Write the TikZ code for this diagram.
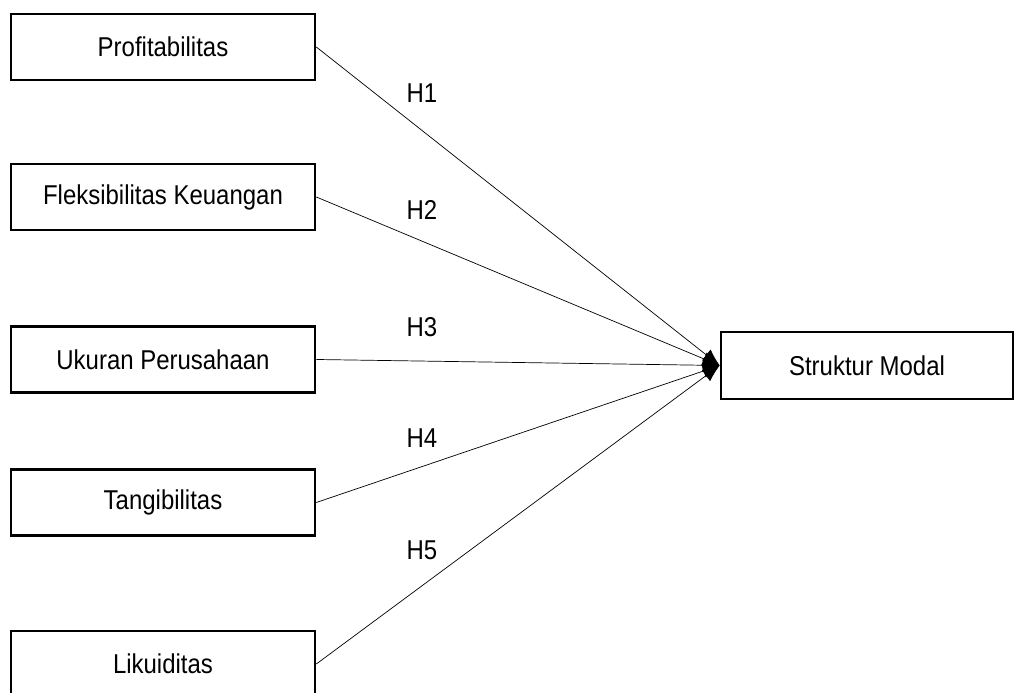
\documentclass[tikz,border=0pt]{standalone}
\usepackage{fontspec}
\setmainfont[FakeStretch=0.88]{Liberation Sans}
\usetikzlibrary{arrows.meta}

\tikzset{
  varbox/.style={draw, line width=1.5pt, minimum width=6.08cm, minimum height=1.32cm, inner sep=0pt},
  hyp/.style={thin, -{Latex[length=3.4mm,width=2.8mm]}},
  hlabel/.style={inner sep=0pt}
}

\begin{document}
\begin{tikzpicture}[font=\fontsize{15.5}{18}\selectfont]
    \useasboundingbox (0,0) rectangle (20.28,13.86);

    % independent variables (left column)
    \node[varbox] (profit) at (3.26,12.92) {Profitabilitas};
    \node[varbox] (fleks)  at (3.26,9.92)  {Fleksibilitas Keuangan};
    \node[varbox] (ukuran) at (3.26,6.67)  {Ukuran Perusahaan};
    \node[varbox] (tangib) at (3.26,3.81)  {Tangibilitas};
    \node[varbox] (likuid) at (3.26,0.58)  {Likuiditas};

    % dependent variable
    \node[varbox, minimum width=5.84cm, minimum height=1.34cm] (struktur) at (17.34,6.55) {Struktur Modal};

    % hypotheses
    \draw[hyp] (profit.east) -- (struktur.west);
    \draw[hyp] (fleks.east)  -- (struktur.west);
    \draw[hyp] (ukuran.east) -- (struktur.west);
    \draw[hyp] (tangib.east) -- (struktur.west);
    \draw[hyp] (likuid.east) -- (struktur.west);

    \node[hlabel] (h1) at (8.44,12.00) {H1};
    \node[hlabel] (h2) at (8.44,9.66)  {H2};
    \node[hlabel] (h3) at (8.44,7.32)  {H3};
    \node[hlabel] (h4) at (8.44,5.10)  {H4};
    \node[hlabel] (h5) at (8.44,2.86)  {H5};

\end{tikzpicture}
\end{document}
